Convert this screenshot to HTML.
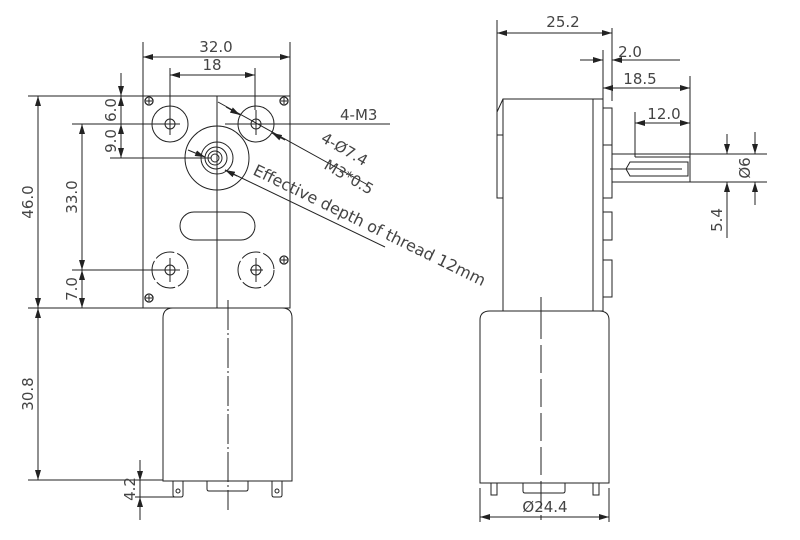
<!DOCTYPE html>
<html><head><meta charset="utf-8"><style>body{margin:0;background:#fff}svg{display:block}</style></head><body>
<svg width="800" height="540" viewBox="0 0 800 540" xmlns="http://www.w3.org/2000/svg" font-family="DejaVu Sans, Liberation Sans, sans-serif" fill="none" stroke="#222" stroke-width="1">
<defs>
<marker id="a" viewBox="0 0 10 6" refX="10" refY="3" markerWidth="10" markerHeight="6" orient="auto-start-reverse" markerUnits="userSpaceOnUse"><path d="M0,0L10,3L0,6z" fill="#222" stroke="none"/></marker>
</defs>
<!-- LEFT VIEW gearbox -->
<rect x="143" y="96" width="147" height="212"/>
<line x1="217" y1="96" x2="217" y2="308"/>
<g stroke-dasharray="30,3,2,3"><line x1="228" y1="300" x2="228" y2="510"/></g>
<circle cx="170" cy="124" r="18"/><circle cx="170" cy="124" r="5"/>
<circle cx="256" cy="124" r="18"/><circle cx="256" cy="124" r="5"/>
<circle cx="170" cy="270" r="18" stroke-dasharray="20,3"/><circle cx="170" cy="270" r="5"/>
<circle cx="256" cy="270" r="18" stroke-dasharray="20,3"/><circle cx="256" cy="270" r="5"/>
<line x1="170" y1="110" x2="170" y2="135"/><line x1="170" y1="258" x2="170" y2="282"/><line x1="256" y1="258" x2="256" y2="282"/><line x1="256" y1="110" x2="256" y2="135"/>
<line x1="250" y1="270" x2="263" y2="270"/>
<circle cx="217" cy="158" r="32"/><circle cx="217" cy="158" r="16"/><circle cx="216" cy="158" r="11"/><circle cx="215" cy="158" r="7"/><circle cx="215" cy="158" r="4"/>
<line x1="217" y1="120" x2="217" y2="198"/>
<rect x="180" y="212" width="75" height="28" rx="14"/>
<g stroke-width="1.3"><circle cx="149" cy="101" r="4"/><circle cx="284" cy="101" r="4"/><circle cx="149" cy="298" r="4"/><circle cx="284" cy="260" r="4"/></g>
<path d="M146,101h6M149,98v6M281,101h6M284,98v6M146,298h6M149,295v6M281,260h6M284,257v6"/>
<!-- motor left -->
<path d="M163,481V318q0-10 10-10H282q10,0 10,10V481Z"/>
<path d="M173,481v14q0,2 2,2h6q2,0 2-2v-14M272,481v14q0,2 2,2h6q2,0 2-2v-14M207,481v8q0,2 2,2h37q2,0 2-2v-8"/>
<circle cx="178" cy="491" r="2"/><circle cx="277" cy="491" r="2"/>
<!-- left dims -->
<path d="M143,96V42M290,96V42M170,110V68M255,110V68"/>
<line x1="143" y1="57" x2="290" y2="57" marker-start="url(#a)" marker-end="url(#a)"/>
<line x1="170" y1="75" x2="255" y2="75" marker-start="url(#a)" marker-end="url(#a)"/>
<path d="M28,96H143M72,124H180M110,158H211M72,270H180M28,308H290M28,480H163M135,497H180"/>
<line x1="38" y1="96" x2="38" y2="308" marker-start="url(#a)" marker-end="url(#a)"/>
<line x1="38" y1="308" x2="38" y2="480" marker-start="url(#a)" marker-end="url(#a)"/>
<line x1="82" y1="124" x2="82" y2="270" marker-start="url(#a)" marker-end="url(#a)"/>
<line x1="82" y1="270" x2="82" y2="308" marker-start="url(#a)" marker-end="url(#a)"/>
<line x1="121" y1="73" x2="121" y2="96" marker-end="url(#a)"/>
<line x1="121" y1="124" x2="121" y2="96" marker-end="url(#a)"/>
<line x1="121" y1="124" x2="121" y2="158" marker-start="url(#a)" marker-end="url(#a)"/>
<line x1="140" y1="460" x2="140" y2="481" marker-end="url(#a)"/>
<line x1="140" y1="520" x2="140" y2="497" marker-end="url(#a)"/>
<path d="M140,481V497"/>
<!-- leaders -->
<path d="M225,124H390"/>
<line x1="218" y1="102" x2="368" y2="185"/>
<line x1="226" y1="107" x2="240" y2="115" marker-end="url(#a)"/>
<line x1="285" y1="140" x2="272" y2="133" marker-end="url(#a)"/>
<line x1="188" y1="150" x2="205" y2="157" marker-end="url(#a)"/>
<line x1="385" y1="247" x2="225" y2="170"/>
<line x1="237" y1="176" x2="225" y2="170" marker-end="url(#a)"/>
<g fill="#444" stroke="none" font-size="15">
<text x="216" y="52" text-anchor="middle">32.0</text>
<text x="212" y="70" text-anchor="middle">18</text>
<text x="340" y="120">4-M3</text>
<text transform="translate(33,202) rotate(-90)" text-anchor="middle">46.0</text>
<text transform="translate(77,197) rotate(-90)" text-anchor="middle">33.0</text>
<text transform="translate(116,110) rotate(-90)" text-anchor="middle">6.0</text>
<text transform="translate(116,141) rotate(-90)" text-anchor="middle">9.0</text>
<text transform="translate(77,289) rotate(-90)" text-anchor="middle">7.0</text>
<text transform="translate(33,394) rotate(-90)" text-anchor="middle">30.8</text>
<text transform="translate(135,489) rotate(-90)" text-anchor="middle">4.2</text>
<text transform="translate(320,141) rotate(30)">4-Ø7.4</text>
<text transform="translate(323,168) rotate(30)">M3*0.5</text>
<text transform="translate(252,174) rotate(26)" font-size="16">Effective depth of thread 12mm</text>
<text x="563" y="27" text-anchor="middle">25.2</text>
<text x="630" y="57" text-anchor="middle">2.0</text>
<text x="640" y="84" text-anchor="middle">18.5</text>
<text x="664" y="119" text-anchor="middle">12.0</text>
<text transform="translate(750,168) rotate(-90)" text-anchor="middle">Ø6</text>
<text transform="translate(722,220) rotate(-90)" text-anchor="middle">5.4</text>
<text x="545" y="512" text-anchor="middle">Ø24.4</text>
</g>
<!-- RIGHT VIEW -->
<rect x="503" y="99" width="90" height="212"/>
<rect x="593" y="99" width="10" height="212"/>
<path d="M503,99L497,112V198H503M497,135H503"/>
<path d="M603,108h9v37h-9M603,145h9v53h-9M603,212h9v28h-9M603,260h9v37h-9"/>
<path d="M612,154H690V182H612M635,157H690M630,162H688V176H630L626,169Z M610,169H682"/>
<path d="M690,154V182"/>
<line x1="541" y1="297" x2="541" y2="320"/>
<path d="M480,483V320q0-9 10-9H599q10,0 10,9V483Z"/>
<path d="M491,483v12h6v-12M593,483v12h6v-12M523,483v8q0,2 2,2h38q2,0 2-2v-8"/>
<g stroke-dasharray="28,6"><line x1="541" y1="311" x2="541" y2="520"/></g>
<!-- right dims -->
<path d="M497,112V20M612,101V28M603,103V50M690,154V76M635,157V112"/>
<line x1="497" y1="33" x2="612" y2="33" marker-start="url(#a)" marker-end="url(#a)"/>
<line x1="580" y1="60" x2="603" y2="60" marker-end="url(#a)"/>
<line x1="680" y1="60" x2="612" y2="60" marker-end="url(#a)"/>
<line x1="603" y1="88" x2="690" y2="88" marker-start="url(#a)" marker-end="url(#a)"/>
<line x1="635" y1="123" x2="690" y2="123" marker-start="url(#a)" marker-end="url(#a)"/>
<path d="M690,154H767M690,182H767"/>
<line x1="727" y1="134" x2="727" y2="154" marker-end="url(#a)"/>
<line x1="727" y1="238" x2="727" y2="182" marker-end="url(#a)"/>
<line x1="755" y1="132" x2="755" y2="154" marker-end="url(#a)"/>
<line x1="755" y1="205" x2="755" y2="182" marker-end="url(#a)"/>
<path d="M480,488V522M609,488V522"/>
<line x1="480" y1="517" x2="609" y2="517" marker-start="url(#a)" marker-end="url(#a)"/>
</svg>
</body></html>
